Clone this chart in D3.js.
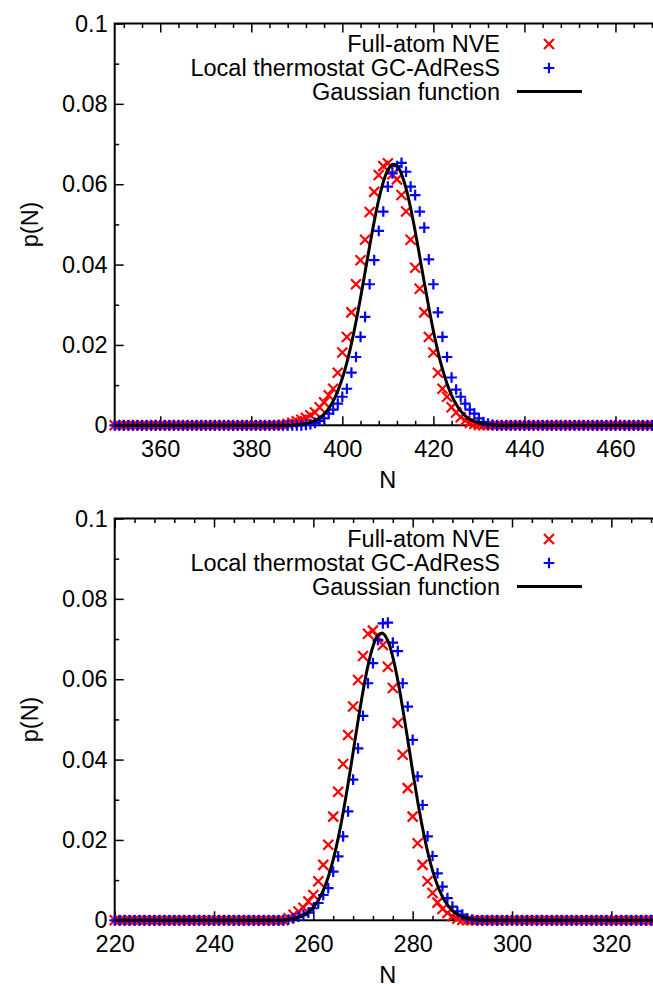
<!DOCTYPE html>
<html><head><meta charset="utf-8">
<script src="https://cdn.jsdelivr.net/npm/d3@7"></script>
<style>
html,body{margin:0;padding:0;background:#fff;}
svg{display:block;}
text{font-family:"Liberation Sans",Arial,Helvetica,sans-serif;}
</style>
</head><body>
<svg id="chart" width="653" height="989"></svg>
<script>
// ---------- shared ----------
const yTicks = [0, 0.02, 0.04, 0.06, 0.08, 0.1];
const yMinorTicks = [0.01, 0.03, 0.05, 0.07, 0.09];
const legendLabels = ["Full-atom NVE", "Local thermostat GC-AdResS", "Gaussian function"];
const xLabel = "N";
const yLabel = "p(N)";

// ---------- top panel ----------
const topXDomain = [350, 470];
const topXTicks = [360, 380, 400, 420, 440, 460];
const topN = d3.range(350, 471);
const topNVE = [
0,0,0,0,0,0,0,0,0,0,
0,0,0,0,0,0,0,0,0,0,
0,0,0,0,0,0,0,0,0,0,
0,0,0,0,0,0,0,0.0001,0.0003,0.0006,
0.0010,0.0014,0.0019,0.0025,0.0032,0.0045,0.0057,0.0075,0.0091,0.0131,
0.0181,0.0220,0.0281,0.0351,0.0411,0.0462,0.0531,0.0581,0.0623,0.0645,
0.0652,0.0625,0.0612,0.0573,0.0532,0.0462,0.0392,0.0340,0.0281,0.0220,
0.0181,0.0131,0.0091,0.0071,0.0045,0.0032,0.0020,0.0012,0.0006,0.0003,
0.0001,0,0,0,0,0,0,0,0,0,
0,0,0,0,0,0,0,0,0,0,
0,0,0,0,0,0,0,0,0,0,
0,0,0,0,0,0,0,0,0,0,
0];
const topAdResS = [
0,0,0,0,0,0,0,0,0,0,
0,0,0,0,0,0,0,0,0,0,
0,0,0,0,0,0,0,0,0,0,
0,0,0,0,0,0,0,0,0,0,
0,0,0.0001,0.0003,0.0006,0.0011,0.0017,0.0029,0.0039,0.0054,
0.0071,0.0091,0.0131,0.0170,0.0220,0.0270,0.0351,0.0411,0.0484,0.0532,
0.0594,0.0627,0.0645,0.0653,0.0631,0.0594,0.0573,0.0532,0.0492,0.0413,
0.0351,0.0281,0.0220,0.0170,0.0119,0.0089,0.0071,0.0054,0.0039,0.0029,
0.0017,0.0008,0.0004,0.0001,0,0,0,0,0,0,
0,0,0,0,0,0,0,0,0,0,
0,0,0,0,0,0,0,0,0,0,
0,0,0,0,0,0,0,0,0,0,
0];
const topGauss = [
0,0,0,0,0,0,0,0,0,0,
0,0,0,0,0,0,0,0,0,0,
0,0,0,0,0,0,0,0,0,0,
0,0,0,0,0,0,0,0,0,0,
0.00015,0.00026,0.00044,0.00072,0.00116,0.00183,0.00280,0.00416,0.00603,0.00851,
0.01169,0.01562,0.02033,0.02576,0.03177,0.03814,0.04457,0.05070,0.05615,0.06054,
0.06354,0.06492,0.06457,0.06252,0.05893,0.05407,0.04831,0.04200,0.03556,0.02930,
0.02351,0.01836,0.01396,0.01033,0.00744,0.00522,0.00356,0.00237,0.00153,0.00097,
0.00059,0.00035,0.00021,0.00010,0,0,0,0,0,0,
0,0,0,0,0,0,0,0,0,0,
0,0,0,0,0,0,0,0,0,0,
0,0,0,0,0,0,0,0,0,0,
0];

// ---------- bottom panel ----------
const botXDomain = [220, 330];
const botXTicks = [220, 240, 260, 280, 300, 320];
const botN = d3.range(220, 331);
const botNVE = [
0,0,0,0,0,0,0,0,0,0,
0,0,0,0,0,0,0,0,0,0,
0,0,0,0,0,0,0,0,0,0,
0,0,0,0,0,0.0005,0.0014,0.0022,0.0031,0.0047,
0.0063,0.0097,0.0138,0.0188,0.0258,0.0320,0.0389,0.0461,0.0532,0.0598,
0.0658,0.0713,0.0721,0.0705,0.0685,0.0631,0.0578,0.0491,0.0412,0.0329,
0.0258,0.0192,0.0138,0.0097,0.0068,0.0044,0.0028,0.0018,0.0010,0.0004,
0.0001,0,0,0,0,0,0,0,0,0,
0,0,0,0,0,0,0,0,0,0,
0,0,0,0,0,0,0,0,0,0,
0,0,0,0,0,0,0,0,0,0,
0];
const botAdResS = [
0,0,0,0,0,0,0,0,0,0,
0,0,0,0,0,0,0,0,0,0,
0,0,0,0,0,0,0,0,0,0,
0,0,0,0,0,0.0002,0.0005,0.0009,0.0013,0.0019,
0.0030,0.0043,0.0063,0.0080,0.0121,0.0159,0.0209,0.0271,0.0350,0.0428,
0.0509,0.0590,0.0640,0.0698,0.0739,0.0741,0.0691,0.0670,0.0590,0.0532,
0.0449,0.0358,0.0287,0.0209,0.0160,0.0117,0.0084,0.0055,0.0034,0.0022,
0.0014,0.0005,0.0002,0,0,0,0,0,0,0,
0,0,0,0,0,0,0,0,0,0,
0,0,0,0,0,0,0,0,0,0,
0,0,0,0,0,0,0,0,0,0,
0];
const botGauss = [
0,0,0,0,0,0,0,0,0,0,
0,0,0,0,0,0,0,0,0,0,
0,0,0,0,0,0,0,0,0,0,
0,0,0,0,0,0.00022,0.00040,0.00071,0.00122,0.00201,
0.00321,0.00497,0.00744,0.01078,0.01510,0.02046,0.02684,0.03405,0.04179,0.04963,
0.05702,0.06338,0.06816,0.07092,0.07139,0.06953,0.06551,0.05972,0.05267,0.04495,
0.03710,0.02963,0.02289,0.01712,0.01238,0.00867,0.00587,0.00384,0.00243,0.00149,
0.00088,0.00051,0.00028,0.00015,0.00008,0,0,0,0,0,
0,0,0,0,0,0,0,0,0,0,
0,0,0,0,0,0,0,0,0,0,
0,0,0,0,0,0,0,0,0,0,
0];

// ---------- drawing ----------
const svg = d3.select("#chart");
const FONT = 23.5;
const timesType = d3.symbolTimes || d3.symbolX;
const plusType = d3.symbolPlus;
const timesPath = d3.symbol().type(timesType).size(67)();
const plusPath = d3.symbol().type(plusType).size(39)();

function panel(cfg) {
  const left = 114.7, right = 661;
  const top = cfg.top, bottom = cfg.top + 401.8;
  const x = d3.scaleLinear().domain(cfg.xDomain).range([left, right]);
  const y = d3.scaleLinear().domain([0, 0.1]).range([bottom, top]);
  const g = svg.append("g");

  const majorX = cfg.xTicks;
  const minorX = d3.range(cfg.xDomain[0], cfg.xDomain[1] + 1, 1)
    .filter(v => v % 4 === 0 && v % 20 !== 0 && v > cfg.xDomain[0] && v < cfg.xDomain[1]);

  const ax = g.append("g").attr("transform", `translate(0,${bottom})`)
    .call(d3.axisBottom(x).tickValues(majorX).tickSize(-9).tickPadding(15).tickFormat(d3.format("d")));
  ax.select(".domain").remove();
  ax.selectAll("text").attr("font-size", FONT).attr("fill", "#000")
    .style("font-family", '"Liberation Sans",Arial,sans-serif');
  const axm = g.append("g").attr("transform", `translate(0,${bottom})`)
    .call(d3.axisBottom(x).tickValues(minorX).tickSize(-4.5).tickFormat(""));
  axm.select(".domain").remove();
  const at = g.append("g").attr("transform", `translate(0,${top})`)
    .call(d3.axisTop(x).tickValues(majorX).tickSize(-9).tickFormat(""));
  at.select(".domain").remove();
  const atm = g.append("g").attr("transform", `translate(0,${top})`)
    .call(d3.axisTop(x).tickValues(minorX).tickSize(-4.5).tickFormat(""));
  atm.select(".domain").remove();
  const ay = g.append("g").attr("transform", `translate(${left},0)`)
    .call(d3.axisLeft(y).tickValues(yTicks).tickSize(-9).tickPadding(7).tickFormat(d3.format("~g")));
  ay.select(".domain").remove();
  ay.selectAll("text").attr("font-size", FONT).attr("fill", "#000")
    .style("font-family", '"Liberation Sans",Arial,sans-serif');
  const aym = g.append("g").attr("transform", `translate(${left},0)`)
    .call(d3.axisLeft(y).tickValues(yMinorTicks).tickSize(-4.5).tickFormat(""));
  aym.select(".domain").remove();
  g.selectAll(".tick line").attr("stroke", "#000").attr("stroke-width", 1.5);

  g.append("rect").attr("x", left).attr("y", top).attr("width", right - left).attr("height", bottom - top)
    .attr("fill", "none").attr("stroke", "#000").attr("stroke-width", 2);

  g.append("text").attr("x", (left + right) / 2).attr("y", bottom + 54).attr("dy", "0.35em")
    .attr("text-anchor", "middle").attr("font-size", FONT).text(xLabel);
  g.append("text").attr("transform", `translate(30,${(top + bottom) / 2}) rotate(-90)`)
    .attr("dy", "0.35em").attr("text-anchor", "middle").attr("font-size", FONT).text(yLabel);

  g.append("g").selectAll("path").data(cfg.n.map((n, i) => [n, cfg.nve[i]])).join("path")
    .attr("d", timesPath).attr("transform", d => `translate(${x(d[0])},${y(d[1])})`)
    .attr("fill", "none").attr("stroke", "#ff0000").attr("stroke-width", 2.2);
  g.append("g").selectAll("path").data(cfg.n.map((n, i) => [n, cfg.adress[i]])).join("path")
    .attr("d", plusPath).attr("transform", d => `translate(${x(d[0])},${y(d[1])})`)
    .attr("fill", "none").attr("stroke", "#0000ff").attr("stroke-width", 2.2);
  const line = d3.line().x(d => x(d[0])).y(d => y(d[1])).curve(d3.curveCatmullRom.alpha(0.5));
  g.append("path").datum(cfg.n.map((n, i) => [n, cfg.gauss[i]])).attr("d", line)
    .attr("fill", "none").attr("stroke", "#000").attr("stroke-width", 3).attr("stroke-linejoin", "round");

  const lx = 500, rows = [top + 20.5, top + 44.5, top + 68];
  legendLabels.forEach((lab, i) => {
    g.append("text").attr("x", lx).attr("y", rows[i]).attr("dy", "0.35em")
      .attr("text-anchor", "end").attr("font-size", FONT).text(lab);
  });
  g.append("path").attr("d", timesPath).attr("transform", `translate(549,${rows[0]})`)
    .attr("fill", "none").attr("stroke", "#ff0000").attr("stroke-width", 2.2);
  g.append("path").attr("d", plusPath).attr("transform", `translate(549,${rows[1]})`)
    .attr("fill", "none").attr("stroke", "#0000ff").attr("stroke-width", 2.2);
  g.append("line").attr("x1", 517).attr("x2", 582).attr("y1", rows[2]).attr("y2", rows[2])
    .attr("stroke", "#000").attr("stroke-width", 3);
}

panel({top: 23.5, xDomain: topXDomain, xTicks: topXTicks, n: topN, nve: topNVE, adress: topAdResS, gauss: topGauss});
panel({top: 518.5, xDomain: botXDomain, xTicks: botXTicks, n: botN, nve: botNVE, adress: botAdResS, gauss: botGauss});
</script>
</body></html>
